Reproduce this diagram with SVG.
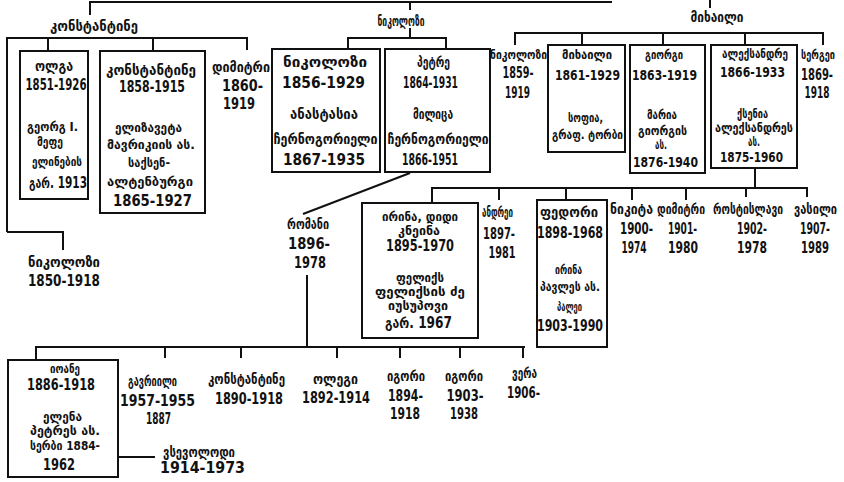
<svg xmlns="http://www.w3.org/2000/svg" width="844" height="482" viewBox="0 0 844 482">
<style>
text{font-family:"DejaVu Sans Condensed","DejaVu Sans",sans-serif;font-weight:bold;fill:#111;text-anchor:middle}
.n{font-size:13.5px}
.m{font-size:12px}
.s{font-size:11.5px}
.y{font-size:15px}
.ys{font-size:14px}
.box{fill:#fff;stroke:#111;stroke-width:2}
#connectors path{fill:none;stroke:#111;stroke-width:2}
</style>
<rect width="844" height="482" fill="#fff"/>
<g id="connectors">
<path d="M90,15 V2 H612"/>
<path d="M410,2 V10"/>
<path d="M710,0 V8"/>
<path d="M7,232 V38 H247 V50 M48,38 V51 M153,38 V51 M7,232 H63 V250"/>
<path d="M410,28 V38 M348,49 V38 H446 V49"/>
<path d="M410,173 L303,214"/>
<path d="M307,275 V347 M36,360 V347 H525 M165,347 V358 M241,347 V358 M337,347 V358 M400,347 V358 M460,347 V358 M523,347 V358"/>
<path d="M118,457 H155"/>
<path d="M515,45 V33 H823 V45 M582,33 V45 M663,33 V45 M745,33 V45"/>
<path d="M755,168 V188 M432,203 V188 H807 V197 M499,188 V200 M566,188 V200 M632,188 V200 M686,188 V200 M746,188 V197"/>
</g>
<g id="konstantine-top"><text class="n" x="94" y="31" textLength="88" lengthAdjust="spacingAndGlyphs">კონსტანტინე</text></g>
<g id="nikolozi-top"><text class="n" x="401" y="26" textLength="47" lengthAdjust="spacingAndGlyphs">ნიკოლოზი</text></g>
<g id="mikhaili-top"><text class="n" x="717" y="22" textLength="53" lengthAdjust="spacingAndGlyphs">მიხაილი</text></g>
<g id="olga"><rect class="box" x="20" y="51" width="68" height="148"/>
<text class="n" x="54" y="71" textLength="38" lengthAdjust="spacingAndGlyphs">ოლგა</text>
<text class="y" x="56" y="89.5" textLength="61" lengthAdjust="spacingAndGlyphs">1851-1926</text>
<text class="m" x="52.5" y="131" textLength="51" lengthAdjust="spacingAndGlyphs">გეორგ I.</text>
<text class="m" x="50" y="146" textLength="26" lengthAdjust="spacingAndGlyphs">მეფე</text>
<text class="m" x="57" y="166" textLength="50" lengthAdjust="spacingAndGlyphs">ელინების</text>
<text class="y" x="58" y="187.5" textLength="58" lengthAdjust="spacingAndGlyphs">გარ. 1913</text></g>
<g id="konstantine"><rect class="box" x="100" y="51" width="105" height="162"/>
<text class="n" x="151" y="75" textLength="90" lengthAdjust="spacingAndGlyphs">კონსტანტინე</text>
<text class="y" x="152" y="92" textLength="66" lengthAdjust="spacingAndGlyphs">1858-1915</text>
<text class="m" x="148.5" y="132" textLength="67" lengthAdjust="spacingAndGlyphs">ელიზავეტა</text>
<text class="m" x="151" y="149" textLength="88" lengthAdjust="spacingAndGlyphs">მავრიკიის  ას.</text>
<text class="m" x="149" y="167" textLength="42" lengthAdjust="spacingAndGlyphs">საქსენ-</text>
<text class="m" x="150" y="186" textLength="86" lengthAdjust="spacingAndGlyphs">ალტენბურგი</text>
<text class="y" x="152.5" y="205.5" textLength="79" lengthAdjust="spacingAndGlyphs">1865-1927</text></g>
<g id="dimitri1"><text class="n" x="241" y="72" textLength="58" lengthAdjust="spacingAndGlyphs">დიმიტრი</text>
<text class="y" x="242.5" y="90.5" textLength="41" lengthAdjust="spacingAndGlyphs">1860-</text>
<text class="y" x="239" y="108.5" textLength="32" lengthAdjust="spacingAndGlyphs">1919</text></g>
<g id="nikolozi1850"><text class="n" x="64" y="267" textLength="72" lengthAdjust="spacingAndGlyphs">ნიკოლოზი</text>
<text class="y" x="64" y="286" textLength="72" lengthAdjust="spacingAndGlyphs">1850-1918</text></g>
<g id="nikolozi1856"><rect class="box" x="272" y="49" width="108" height="123"/>
<text class="n" x="325" y="67" textLength="84" lengthAdjust="spacingAndGlyphs">ნიკოლოზი</text>
<text class="y" x="323.5" y="87.5" textLength="83" lengthAdjust="spacingAndGlyphs">1856-1929</text>
<text class="n" x="324" y="119" textLength="68" lengthAdjust="spacingAndGlyphs">ანასტასია</text>
<text class="n" x="325.5" y="144" textLength="104" lengthAdjust="spacingAndGlyphs">ჩერნოგორიელი</text>
<text class="y" x="324" y="164.5" textLength="82" lengthAdjust="spacingAndGlyphs">1867-1935</text></g>
<g id="petre"><rect class="box" x="385" y="49" width="105" height="123"/>
<text class="n" x="433.5" y="67" textLength="33" lengthAdjust="spacingAndGlyphs">პეტრე</text>
<text class="y" x="430.5" y="87.5" textLength="55" lengthAdjust="spacingAndGlyphs">1864-1931</text>
<text class="n" x="433" y="119" textLength="40" lengthAdjust="spacingAndGlyphs">მილიცა</text>
<text class="n" x="438" y="144" textLength="101" lengthAdjust="spacingAndGlyphs">ჩერნოგორიელი</text>
<text class="y" x="430" y="164.5" textLength="56" lengthAdjust="spacingAndGlyphs">1866-1951</text></g>
<g id="romani"><text class="n" x="308" y="229" textLength="42" lengthAdjust="spacingAndGlyphs">რომანი</text>
<text class="y" x="309" y="248.5" textLength="42" lengthAdjust="spacingAndGlyphs">1896-</text>
<text class="y" x="310" y="267.5" textLength="32" lengthAdjust="spacingAndGlyphs">1978</text></g>
<g id="ioane"><rect class="box" x="8" y="360" width="110" height="117"/>
<text class="m" x="65" y="373" textLength="30" lengthAdjust="spacingAndGlyphs">იოანე</text>
<text class="y" x="61" y="390" textLength="68" lengthAdjust="spacingAndGlyphs">1886-1918</text>
<text class="m" x="62.5" y="421" textLength="39" lengthAdjust="spacingAndGlyphs">ელენა</text>
<text class="m" x="65" y="435" textLength="70" lengthAdjust="spacingAndGlyphs">პეტრეს  ას.</text>
<text class="m" x="65" y="450" textLength="70" lengthAdjust="spacingAndGlyphs">სერბი 1884-</text>
<text class="y" x="59" y="470" textLength="32" lengthAdjust="spacingAndGlyphs">1962</text></g>
<g id="gavriili"><text class="n" x="152.5" y="386" textLength="49" lengthAdjust="spacingAndGlyphs">გავრიილი</text>
<text class="y" x="157.5" y="405.5" textLength="75" lengthAdjust="spacingAndGlyphs">1957-1955</text>
<text class="y" x="158.5" y="423.5" textLength="25" lengthAdjust="spacingAndGlyphs">1887</text></g>
<g id="konstantine1890"><text class="n" x="246.5" y="384" textLength="77" lengthAdjust="spacingAndGlyphs">კონსტანტინე</text>
<text class="y" x="249" y="403.5" textLength="68" lengthAdjust="spacingAndGlyphs">1890-1918</text></g>
<g id="olegi"><text class="n" x="335.5" y="384" textLength="45" lengthAdjust="spacingAndGlyphs">ოლეგი</text>
<text class="y" x="336" y="402.5" textLength="68" lengthAdjust="spacingAndGlyphs">1892-1914</text></g>
<g id="igori1894"><text class="n" x="406" y="381" textLength="38" lengthAdjust="spacingAndGlyphs">იგორი</text>
<text class="y" x="405.5" y="400.5" textLength="35" lengthAdjust="spacingAndGlyphs">1894-</text>
<text class="y" x="405" y="418.5" textLength="30" lengthAdjust="spacingAndGlyphs">1918</text></g>
<g id="igori1903"><text class="n" x="464" y="381" textLength="38" lengthAdjust="spacingAndGlyphs">იგორი</text>
<text class="y" x="465" y="400.5" textLength="37" lengthAdjust="spacingAndGlyphs">1903-</text>
<text class="y" x="464" y="418.5" textLength="28" lengthAdjust="spacingAndGlyphs">1938</text></g>
<g id="vera"><text class="n" x="524.5" y="378" textLength="25" lengthAdjust="spacingAndGlyphs">ვერა</text>
<text class="y" x="523.5" y="397.5" textLength="33" lengthAdjust="spacingAndGlyphs">1906-</text></g>
<g id="vsevolodi"><text class="n" x="199" y="457" textLength="72" lengthAdjust="spacingAndGlyphs">ვსევოლოდი</text>
<text class="y" x="202.5" y="473" textLength="85" lengthAdjust="spacingAndGlyphs">1914-1973</text></g>
<g id="nikolozi1859"><text class="s" x="518.5" y="59" textLength="57" lengthAdjust="spacingAndGlyphs">ნიკოლოზი</text>
<text class="y" x="518" y="78" textLength="31" lengthAdjust="spacingAndGlyphs">1859-</text>
<text class="y" x="517.5" y="97.5" textLength="25" lengthAdjust="spacingAndGlyphs">1919</text></g>
<g id="mikhaili1861"><rect class="box" x="548" y="45" width="77" height="107"/>
<text class="s" x="587" y="59" textLength="50" lengthAdjust="spacingAndGlyphs">მიხაილი</text>
<text class="ys" x="587.5" y="80" textLength="65" lengthAdjust="spacingAndGlyphs">1861-1929</text>
<text class="s" x="585.5" y="122" textLength="35" lengthAdjust="spacingAndGlyphs">სოფია,</text>
<text class="s" x="587.5" y="139" textLength="71" lengthAdjust="spacingAndGlyphs">გრაფ. ტორბი</text></g>
<g id="giorgi"><rect class="box" x="630" y="45" width="75" height="128"/>
<text class="s" x="664" y="59" textLength="38" lengthAdjust="spacingAndGlyphs">გიორგი</text>
<text class="ys" x="664.5" y="80" textLength="65" lengthAdjust="spacingAndGlyphs">1863-1919</text>
<text class="s" x="662" y="119" textLength="30" lengthAdjust="spacingAndGlyphs">მარია</text>
<text class="s" x="662.5" y="135" textLength="49" lengthAdjust="spacingAndGlyphs">გიორგის</text>
<text class="s" x="661" y="149" textLength="12" lengthAdjust="spacingAndGlyphs">ას.</text>
<text class="ys" x="665.5" y="167" textLength="65" lengthAdjust="spacingAndGlyphs">1876-1940</text></g>
<g id="aleksandre"><rect class="box" x="711" y="45" width="86" height="123"/>
<text class="s" x="755" y="58" textLength="66" lengthAdjust="spacingAndGlyphs">ალექსანდრე</text>
<text class="ys" x="752.5" y="77" textLength="65" lengthAdjust="spacingAndGlyphs">1866-1933</text>
<text class="s" x="752.5" y="118" textLength="31" lengthAdjust="spacingAndGlyphs">ქსენია</text>
<text class="s" x="754" y="132" textLength="78" lengthAdjust="spacingAndGlyphs">ალექსანდრეს</text>
<text class="s" x="754" y="146" textLength="12" lengthAdjust="spacingAndGlyphs">ას.</text>
<text class="ys" x="751.5" y="162" textLength="63" lengthAdjust="spacingAndGlyphs">1875-1960</text></g>
<g id="sergei"><text class="s" x="818" y="59" textLength="34" lengthAdjust="spacingAndGlyphs">სერგეი</text>
<text class="y" x="817" y="80" textLength="32" lengthAdjust="spacingAndGlyphs">1869-</text>
<text class="y" x="817" y="98" textLength="25" lengthAdjust="spacingAndGlyphs">1918</text></g>
<g id="irina"><rect class="box" x="362" y="203" width="116" height="135"/>
<text class="m" x="420" y="221" textLength="76" lengthAdjust="spacingAndGlyphs">ირინა, დიდი</text>
<text class="m" x="419" y="235" textLength="42" lengthAdjust="spacingAndGlyphs">კნეინა</text>
<text class="y" x="420" y="250.5" textLength="68" lengthAdjust="spacingAndGlyphs">1895-1970</text>
<text class="s" x="420" y="282" textLength="48" lengthAdjust="spacingAndGlyphs">ფელიქს</text>
<text class="s" x="420" y="296" textLength="90" lengthAdjust="spacingAndGlyphs">ფელიქსის  ძე</text>
<text class="s" x="418" y="309.5" textLength="60" lengthAdjust="spacingAndGlyphs">იუსუპოვი</text>
<text class="y" x="418.5" y="328" textLength="67" lengthAdjust="spacingAndGlyphs">გარ. 1967</text></g>
<g id="andrei"><text class="n" x="497.5" y="217" textLength="31" lengthAdjust="spacingAndGlyphs">ანდრეი</text>
<text class="y" x="499" y="238.5" textLength="32" lengthAdjust="spacingAndGlyphs">1897-</text>
<text class="y" x="502" y="257.5" textLength="27" lengthAdjust="spacingAndGlyphs">1981</text></g>
<g id="fedori"><rect class="box" x="537" y="200" width="70" height="147"/>
<text class="n" x="569" y="217" textLength="58" lengthAdjust="spacingAndGlyphs">ფედორი</text>
<text class="y" x="570" y="237.5" textLength="66" lengthAdjust="spacingAndGlyphs">1898-1968</text>
<text class="m" x="568.5" y="274" textLength="27" lengthAdjust="spacingAndGlyphs">ირინა</text>
<text class="m" x="570" y="291" textLength="60" lengthAdjust="spacingAndGlyphs">პავლეს  ას.</text>
<text class="m" x="569.5" y="311" textLength="25" lengthAdjust="spacingAndGlyphs">პალეი</text>
<text class="y" x="570" y="330.5" textLength="66" lengthAdjust="spacingAndGlyphs">1903-1990</text></g>
<g id="nikita"><text class="n" x="631.5" y="214" textLength="43" lengthAdjust="spacingAndGlyphs">ნიკიტა</text>
<text class="y" x="636.5" y="233.5" textLength="33" lengthAdjust="spacingAndGlyphs">1900-</text>
<text class="y" x="634" y="252.5" textLength="25" lengthAdjust="spacingAndGlyphs">1974</text></g>
<g id="dimitri1901"><text class="n" x="681" y="214" textLength="48" lengthAdjust="spacingAndGlyphs">დიმიტრი</text>
<text class="y" x="682.5" y="233.5" textLength="29" lengthAdjust="spacingAndGlyphs">1901-</text>
<text class="y" x="683" y="252.5" textLength="30" lengthAdjust="spacingAndGlyphs">1980</text></g>
<g id="rostislavi"><text class="n" x="748" y="214" textLength="70" lengthAdjust="spacingAndGlyphs">როსტისლავი</text>
<text class="y" x="752" y="233.5" textLength="30" lengthAdjust="spacingAndGlyphs">1902-</text>
<text class="y" x="752" y="252.5" textLength="30" lengthAdjust="spacingAndGlyphs">1978</text></g>
<g id="vasili"><text class="n" x="815.5" y="214" textLength="43" lengthAdjust="spacingAndGlyphs">ვასილი</text>
<text class="y" x="815" y="233.5" textLength="30" lengthAdjust="spacingAndGlyphs">1907-</text>
<text class="y" x="815" y="252.5" textLength="28" lengthAdjust="spacingAndGlyphs">1989</text></g>
</svg>
